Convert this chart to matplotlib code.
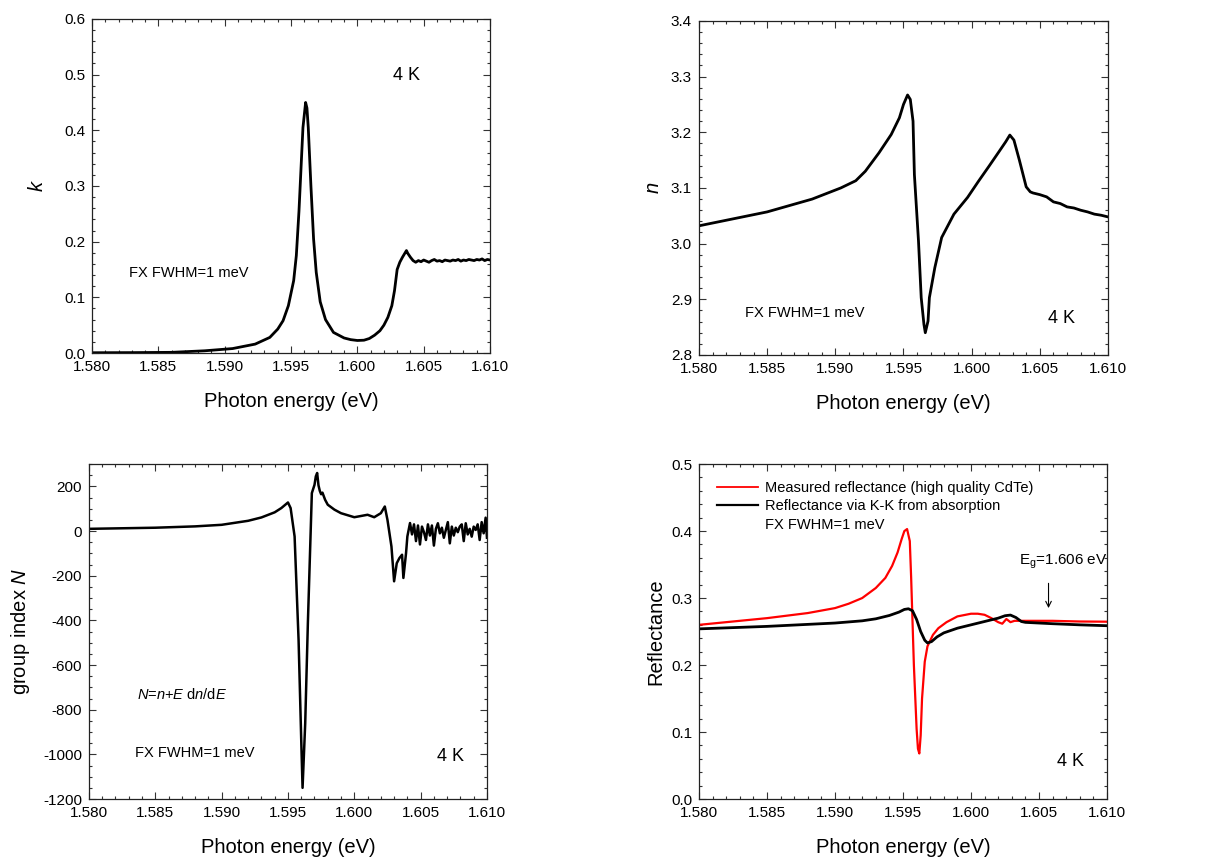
import matplotlib
matplotlib.use("Agg")
import matplotlib.pyplot as plt
from matplotlib.ticker import MultipleLocator, FormatStrFormatter
from matplotlib.lines import Line2D

plt.rcParams['font.family'] = ['Liberation Sans', 'DejaVu Sans']
plt.rcParams['mathtext.fontset'] = 'custom'
plt.rcParams['mathtext.rm'] = 'Liberation Sans'
plt.rcParams['mathtext.it'] = 'Liberation Sans:italic'

# ---------------- extinction coefficient k ----------------
E_k = [1.5800, 1.5830, 1.5860, 1.5885, 1.5906, 1.5923, 1.5934, 1.5940, 1.5944,
       1.5948, 1.5952, 1.5954, 1.5956, 1.5958, 1.5959, 1.5961, 1.5962, 1.5963,
       1.5965, 1.5967, 1.5969, 1.5972, 1.5976, 1.5982, 1.5990, 1.5995, 1.6000,
       1.6005, 1.6009, 1.6013, 1.6017, 1.6020, 1.6023, 1.6026, 1.6028, 1.6030,
       1.6032, 1.6034, 1.6036, 1.6037, 1.6038, 1.6040, 1.6042,
       1.6044, 1.6046, 1.6048, 1.6050, 1.6052, 1.6054, 1.6056, 1.6058, 1.6060,
       1.6062, 1.6064, 1.6066, 1.6068, 1.6070, 1.6072, 1.6074, 1.6076, 1.6078,
       1.6080, 1.6082, 1.6084, 1.6086, 1.6088, 1.6090, 1.6092, 1.6094, 1.6096,
       1.6098, 1.6100]
k_val = [0.0005, 0.0007, 0.0012, 0.004, 0.008, 0.016, 0.028, 0.043, 0.058,
         0.085, 0.130, 0.175, 0.255, 0.355, 0.405, 0.450, 0.440, 0.405,
         0.300, 0.205, 0.145, 0.092, 0.060, 0.037, 0.027, 0.024, 0.0225,
         0.023, 0.026, 0.032, 0.040, 0.050, 0.064, 0.085, 0.112, 0.150,
         0.163, 0.172, 0.180, 0.184, 0.179, 0.172, 0.166,
         0.163, 0.166, 0.164, 0.167, 0.165, 0.163, 0.166, 0.168, 0.165,
         0.166, 0.164, 0.167, 0.166, 0.165, 0.167, 0.166, 0.168, 0.165,
         0.167, 0.166, 0.168, 0.167, 0.166, 0.168, 0.167, 0.169, 0.166,
         0.168, 0.167]

# ---------------- refractive index n ----------------
E_n = [1.5800, 1.5850, 1.5883, 1.5904, 1.5915, 1.5922, 1.5932, 1.5941, 1.5947,
       1.5950, 1.5953, 1.5955, 1.5957, 1.5958, 1.5961, 1.5963, 1.5965, 1.5966,
       1.5968, 1.5969, 1.5973, 1.5978, 1.5987, 1.5997, 1.6005, 1.6013, 1.6020,
       1.6025, 1.6028, 1.6031, 1.6035, 1.6040, 1.6043, 1.6045, 1.6050, 1.6055,
       1.6060, 1.6065, 1.6070, 1.6075, 1.6080, 1.6085, 1.6090, 1.6095, 1.6100]
n_val = [3.032, 3.057, 3.080, 3.100, 3.113, 3.130, 3.163, 3.196, 3.226,
         3.250, 3.267, 3.259, 3.220, 3.124, 3.005, 2.903, 2.855, 2.840,
         2.861, 2.903, 2.957, 3.011, 3.053, 3.083, 3.112, 3.140, 3.165,
         3.183, 3.195, 3.186, 3.150, 3.102, 3.093, 3.091, 3.088, 3.084,
         3.075, 3.072, 3.066, 3.064, 3.060, 3.057, 3.053, 3.051, 3.048]

# ---------------- group index N ----------------
E_N = [1.5800, 1.5850, 1.5880, 1.5900, 1.5920, 1.5930, 1.5940, 1.5945, 1.5950,
       1.5952, 1.5955, 1.5958, 1.5960, 1.5961, 1.5963, 1.5965, 1.5968, 1.5970,
       1.5971, 1.5972, 1.5973, 1.5974, 1.5975, 1.5976, 1.5978, 1.5980, 1.5985,
       1.5990, 1.6000, 1.6010, 1.6015, 1.6020, 1.6023, 1.6025, 1.6028, 1.6030,
       1.6032, 1.6034, 1.6036, 1.6037, 1.6039, 1.6040, 1.6042,
       1.60435, 1.6045, 1.60465, 1.6048, 1.60495, 1.6051, 1.60525, 1.6054,
       1.60555, 1.6057, 1.60585, 1.6060, 1.60615, 1.6063, 1.60645, 1.6066,
       1.60675, 1.6069, 1.60705, 1.6072, 1.60735, 1.6075, 1.60765, 1.6078,
       1.60795, 1.6081, 1.60825, 1.6084, 1.60855, 1.6087, 1.60885, 1.6090,
       1.60915, 1.6093, 1.60945, 1.6096, 1.60975, 1.6099, 1.6100]
N_val = [10, 15, 21, 28, 46, 61, 84, 103, 128,
         103, -24, -488, -936, -1150, -861, -413, 170, 207,
         245, 260, 205, 180, 165, 172, 140, 118, 96,
         80, 62, 73, 62, 80, 110, 50, -69, -225,
         -144, -121, -106, -210, -99, -24, 36,
         -15, 30, -45, 25, -60, 20, -5, -40, 30,
         -20, 25, -65, 10, 35, -10, 15, -30, 5,
         40, -55, 20, -20, 15, -5, 20, 30, -45,
         35, -15, 10, -25, 20, 5, 30, -40, 40,
         -10, 60, -30]

# ---------------- reflectance ----------------
E_Rm = [1.5800, 1.5850, 1.5880, 1.5900, 1.5910, 1.5920, 1.5930, 1.5937, 1.5942,
        1.5946, 1.5949, 1.5951, 1.5953, 1.5955, 1.5956, 1.5958, 1.5960, 1.5961,
        1.5962, 1.5963, 1.5964, 1.5966, 1.5968, 1.5972, 1.5976, 1.5982, 1.5990,
        1.6000, 1.6005, 1.6010, 1.6015, 1.6020, 1.6023, 1.6026, 1.6029, 1.6032,
        1.6040, 1.6060, 1.6080, 1.6100]
R_meas = [0.260, 0.270, 0.2776, 0.285, 0.2915, 0.300, 0.315, 0.330, 0.348,
          0.368, 0.388, 0.400, 0.403, 0.385, 0.330, 0.200, 0.105, 0.075,
          0.068, 0.095, 0.150, 0.205, 0.228, 0.245, 0.255, 0.264, 0.2726,
          0.2766, 0.2766, 0.275, 0.270, 0.264, 0.2617, 0.2687, 0.264, 0.266,
          0.266, 0.266, 0.265, 0.2647]

E_Rk = [1.5800, 1.5850, 1.5900, 1.5920, 1.5930, 1.5940, 1.5947, 1.5951, 1.5954,
        1.5957, 1.5960, 1.5963, 1.5966, 1.5968, 1.5971, 1.5975, 1.5980, 1.5990,
        1.6000, 1.6010, 1.6020, 1.6025, 1.6029, 1.6033, 1.6037, 1.6040, 1.6060,
        1.6080, 1.6100]
R_kk = [0.254, 0.2577, 0.2627, 0.266, 0.269, 0.274, 0.279, 0.283, 0.284,
        0.281, 0.268, 0.250, 0.237, 0.233, 0.235, 0.242, 0.248, 0.255,
        0.260, 0.265, 0.270, 0.2736, 0.2746, 0.271, 0.265, 0.2637, 0.2617,
        0.260, 0.2587]

x_label = "Photon energy (eV)"
x_ticks = [1.580, 1.585, 1.590, 1.595, 1.600, 1.605, 1.610]

fig = plt.figure(figsize=(12.22, 8.61), dpi=100)

ax_k = fig.add_axes([0.0753, 0.590, 0.3257, 0.388])
ax_n = fig.add_axes([0.572, 0.5877, 0.3347, 0.388])
ax_N = fig.add_axes([0.0728, 0.072, 0.3257, 0.389])
ax_R = fig.add_axes([0.572, 0.072, 0.3339, 0.389])

TICK_FS = 11
LAB_FS = 14.5
NOTE_FS = 10.5
TEMP_FS = 13


def style(ax, ymin, ymax, ymaj, ymin_step, yfmt):
    ax.set_xlim(1.580, 1.610)
    ax.set_ylim(ymin, ymax)
    ax.set_xticks(x_ticks)
    ax.xaxis.set_major_formatter(FormatStrFormatter('%.3f'))
    ax.xaxis.set_minor_locator(MultipleLocator(0.001))
    ax.yaxis.set_major_locator(MultipleLocator(ymaj))
    ax.yaxis.set_minor_locator(MultipleLocator(ymin_step))
    ax.yaxis.set_major_formatter(FormatStrFormatter(yfmt))
    ax.tick_params(which='both', direction='in', top=True, right=True,
                   labelsize=TICK_FS, colors='#333333', labelcolor='black',
                   width=0.8)
    ax.tick_params(which='major', length=5, pad=5)
    ax.tick_params(which='minor', length=2.5)
    for s in ax.spines.values():
        s.set_linewidth(0.9)
        s.set_color('#222222')
    ax.set_xlabel(x_label, fontsize=LAB_FS, labelpad=13)


# k panel
ax_k.plot(E_k, k_val, color='black', lw=2.0)
style(ax_k, 0.0, 0.6, 0.1, 0.02, '%.1f')
ax_k.set_ylabel(r'$\mathit{k}$', fontsize=LAB_FS, labelpad=12)
ax_k.text(1.6027, 0.49, '4 K', fontsize=TEMP_FS)
ax_k.text(1.5828, 0.136, 'FX FWHM=1 meV', fontsize=NOTE_FS)

# n panel
ax_n.plot(E_n, n_val, color='black', lw=2.0)
style(ax_n, 2.8, 3.4, 0.1, 0.02, '%.1f')
ax_n.set_ylabel(r'$\mathit{n}$', fontsize=LAB_FS, labelpad=6)
ax_n.text(1.58335, 2.868, 'FX FWHM=1 meV', fontsize=NOTE_FS)
ax_n.text(1.6056, 2.858, '4 K', fontsize=TEMP_FS)

# group index panel
ax_N.plot(E_N, N_val, color='black', lw=1.8)
style(ax_N, -1200, 300, 200, 50, '%d')
ax_N.set_yticks([-1200, -1000, -800, -600, -400, -200, 0, 200])
ax_N.set_ylabel(r'group index $\mathit{N}$', fontsize=LAB_FS, labelpad=8)
ax_N.text(1.5836, -750, r'$\mathit{N}$=$\mathit{n}$+$\mathit{E}$ d$\mathit{n}$/d$\mathit{E}$',
          fontsize=NOTE_FS)
ax_N.text(1.5835, -1010, 'FX FWHM=1 meV', fontsize=NOTE_FS)
ax_N.text(1.6062, -1032, '4 K', fontsize=TEMP_FS)

# reflectance panel
ax_R.plot(E_Rm, R_meas, color='#ff0000', lw=1.6)
ax_R.plot(E_Rk, R_kk, color='black', lw=2.0)
style(ax_R, 0.0, 0.5, 0.1, 0.02, '%.1f')
ax_R.set_ylabel('Reflectance', fontsize=LAB_FS, labelpad=4)
handles = [Line2D([], [], color='#ff0000', lw=1.3),
           Line2D([], [], color='black', lw=1.6),
           Line2D([], [], color='none')]
labels = ['Measured reflectance (high quality CdTe)',
          'Reflectance via K-K from absorption',
          'FX FWHM=1 meV']
ax_R.legend(handles, labels, loc='upper left', frameon=False, fontsize=10.5,
            handlelength=2.8, handletextpad=0.5, labelspacing=0.3,
            borderaxespad=0.4, bbox_to_anchor=(0.015, 0.985))
ax_R.text(1.6035, 0.350, r'E$_\mathregular{g}$=1.606 eV', fontsize=11)
ax_R.annotate('', xy=(1.6057, 0.285), xytext=(1.6057, 0.322),
              arrowprops=dict(arrowstyle='->', color='black', lw=0.8,
                              shrinkA=0, shrinkB=0))
ax_R.text(1.6063, 0.050, '4 K', fontsize=TEMP_FS)

fig.savefig('out.png', dpi=100)
